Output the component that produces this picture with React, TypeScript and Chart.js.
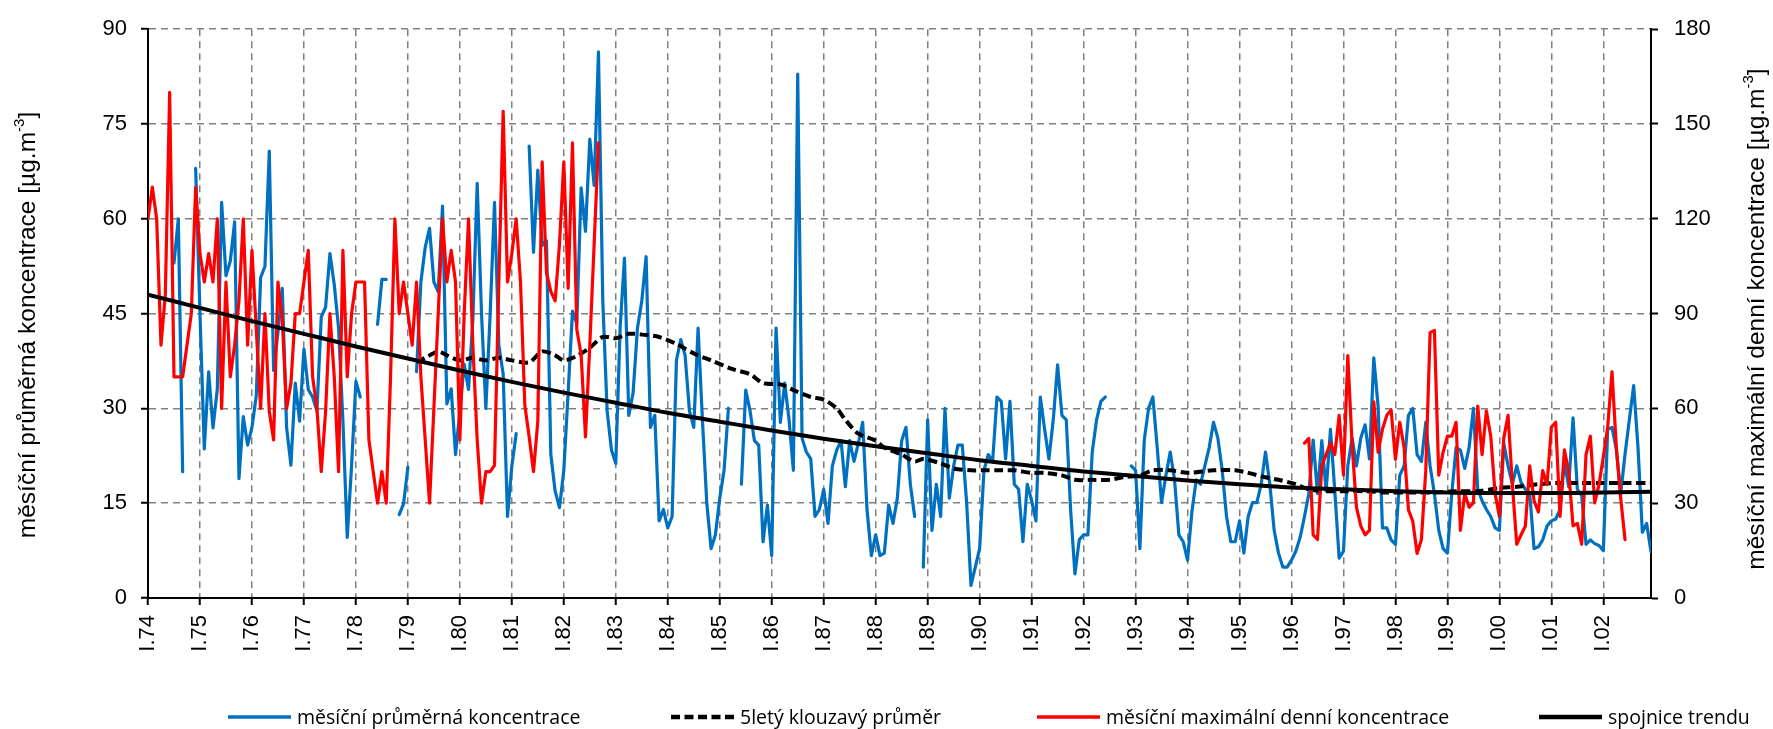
import React, { useEffect, useRef } from "react";
import { Chart, registerables } from "chart.js";

Chart.register(...registerables);

// ---- tick labels (January of each year) ----
const tickLabels = [
  "I.74", "I.75", "I.76", "I.77", "I.78", "I.79", "I.80", "I.81", "I.82", "I.83",
  "I.84", "I.85", "I.86", "I.87", "I.88", "I.89", "I.90", "I.91", "I.92", "I.93",
  "I.94", "I.95", "I.96", "I.97", "I.98", "I.99", "I.00", "I.01", "I.02",
];
const tickMonths = [
  0, 12, 24, 36, 48, 60, 72, 84, 96, 108,
  120, 132, 144, 156, 168, 180, 192, 204, 216, 228,
  240, 252, 264, 276, 288, 300, 312, 324, 336,
];
const lastMonth = 347; // XII.2002

// ---- monthly mean concentration (left axis), Jan..Dec per row, 1974..2002 ----
const monthlyMean = [
  null, null, null, null, null, null, 53, 60, 20, null, null, 68, // 1974
  45, 23.6, 35.8, 26.9, 33, 62.6, 51, 53.3, 59.5, 18.9, 28.7, 24.2, // 1975
  27, 32, 50.7, 52.5, 70.7, 36, 42, 49, 27, 21, 34, 28, // 1976
  39.4, 33, 31.8, 29.6, 44.5, 46, 54.5, 49.6, 42.7, 28, 9.6, 20.9, // 1977
  34.3, 31.8, null, null, null, 43.3, 50.4, 50.4, null, null, 13.2, 14.9, // 1978
  20.7, null, 35.8, 50, 55.5, 58.5, 50, 48.5, 62, 30.7, 33.1, 22.7, // 1979
  29.6, 37, 33, 44, 65.6, 45, 30, 45, 62.6, 40, 35.4, 12.9, // 1980
  20.9, 26, null, null, 71.5, 54.7, 67.7, 55.8, 56.5, 22.7, 16.9, 14.3, // 1981
  20.2, 32.5, 45.4, 43.4, 64.9, 58, 72.6, 65.3, 86.4, 47, 29.6, 23.4, // 1982
  21.3, 42.7, 53.8, 28.9, 32.5, 42.7, 47, 54, 27, 28.9, 12.2, 14, // 1983
  11.1, 12.9, 37.6, 40.9, 38.4, 29.6, 27, 42.7, 28.2, 15.1, 7.8, 10, // 1984
  15.8, 20.2, 30, null, null, 18, 32.9, 29.6, 24.9, 24.2, 8.9, 14.7, // 1985
  6.7, 42.7, 27.8, 34, 28.2, 20.2, 82.9, 25.3, 23.1, 22, 12.9, 14, // 1986
  17.2, 11.8, 20.9, 23.4, 24.9, 17.6, 24.9, 21.6, 24.5, 27.8, 14, 6.7, // 1987
  10, 6.7, 7.1, 14.7, 11.8, 15.8, 24.9, 27, 18, 12.9, null, 4.9, // 1988
  28.2, 10.7, 18, 12.9, 30, 15.8, 20.9, 24.2, 24.2, 15.1, 2, 4.9, // 1989
  7.8, 20.2, 22.7, 21.6, 31.8, 31.1, 22, 31.1, 18, 17.2, 8.9, 18, // 1990
  15.4, 12.2, 31.8, 26.7, 22, 28.2, 36.9, 28.9, 28.2, 14, 3.8, 9.2, // 1991
  10, 10, 23.1, 28.2, 31.1, 31.8, null, null, null, null, null, 20.9, // 1992
  20.2, 7.8, 24.9, 30, 31.8, 23.8, 15.1, 19.4, 23.1, 18.7, 10, 8.9, // 1993
  6, 13.6, 18.7, 18, 20.9, 23.8, 27.8, 25.3, 20.2, 12.9, 8.9, 8.9, // 1994
  12.2, 7.1, 12.9, 15.1, 15.1, 18, 23.1, 18, 10.7, 7.1, 4.9, 4.9, // 1995
  6, 7.4, 9.6, 12.9, 16.5, 25, 16.5, 24.9, 16.9, 26.7, 16.9, 6.3, // 1996
  7.4, 20.9, 25.3, 20.9, 25.3, 27.4, 22, 38, 30.3, 11.1, 11.1, 9.2, // 1997
  8.5, 19.4, 20.9, 28.9, 30, 22.7, 21.6, 27.8, 20.9, 16.5, 10.7, 7.8, // 1998
  7.1, 16.5, 23.8, 23.4, 20.5, 23.8, 30, 17.2, 15.4, 14, 12.9, 11.1, // 1999
  10.7, 24.5, 20.9, 18, 20.9, 18.3, 17.2, 16.5, 7.8, 8.1, 9.2, 11.4, // 2000
  12.2, 12.5, 14, 21.6, 17.6, 28.5, 17.2, 16.2, 8.5, 9.2, 8.6, 8.3, // 2001
  7.5, 26.7, 27, 23.5, 16.5, 22.7, 28.2, 33.6, 23.8, 10.4, 11.8, 7.3, // 2002
];

// ---- monthly maximum daily concentration (right axis) ----
const monthlyMax = [
  120, 130, 120, 80, 96, 160, 70, 70, 70, 80, 90, 130, // 1974
  109, 100, 109, 100, 120, 60, 100, 70, 80, 94, 120, 80, // 1975
  110, 85, 60, 90, 59, 50, 100, 88, 60, 68, 90, 90, // 1976
  100, 110, 70, 60, 40, 59, 90, 70, 40, 110, 70, 90, // 1977
  100, 100, 100, 50, 40, 30, 40, 30, 70, 120, 90, 100, // 1978
  90, 80, 100, 70, 50, 30, 60, 90, 120, 100, 110, 100, // 1979
  50, 90, 120, 80, 50, 30, 40, 40, 42, 100, 154, 100, // 1980
  109, 120, 100, 61, 51, 40, 56, 138, 103, 97, 94, 112, // 1981
  138, 98, 144, 85, 77, 51, 80, 112, 144, null, null, null, // 1982
  null, null, null, null, null, null, null, null, null, null, null, null, // 1983
  null, null, null, null, null, null, null, null, null, null, null, null, // 1984
  null, null, null, null, null, null, null, null, null, null, null, null, // 1985
  null, null, null, null, null, null, null, null, null, null, null, null, // 1986
  null, null, null, null, null, null, null, null, null, null, null, null, // 1987
  null, null, null, null, null, null, null, null, null, null, null, null, // 1988
  null, null, null, null, null, null, null, null, null, null, null, null, // 1989
  null, null, null, null, null, null, null, null, null, null, null, null, // 1990
  null, null, null, null, null, null, null, null, null, null, null, null, // 1991
  null, null, null, null, null, null, null, null, null, null, null, null, // 1992
  null, null, null, null, null, null, null, null, null, null, null, null, // 1993
  null, null, null, null, null, null, null, null, null, null, null, null, // 1994
  null, null, null, null, null, null, null, null, null, null, null, null, // 1995
  null, null, null, 49, 50.5, 20, 18.5, 41.8, 45.4, 49, 45.4, 57.8, // 1996
  38.9, 76.7, 48.3, 28.7, 22.8, 20, 21.4, 62.1, 46.1, 53.4, 57.8, 59.5, // 1997
  43.9, 55.6, 47.6, 27.9, 24.3, 14.1, 18.5, 40.3, 84, 84.7, 38.9, 46.1, // 1998
  51.2, 51.2, 55.6, 21.4, 33, 28.7, 30.1, 60.7, 45.4, 59.2, 51.2, 33, // 1999
  25.8, 50.5, 57.8, 35.9, 17, 20, 22.8, 41.8, 30.8, 27.2, 40.3, 35.9, // 2000
  54.1, 55.6, 25.8, 46.9, 40, 22.8, 23.6, 17, 45.4, 51.2, 30.1, 35.9, // 2001
  44.7, 54.1, 71.6, 47.6, 31.6, 18.5, null, null, null, null, null, null, // 2002
];

// ---- 5-year moving average (left axis), read at month index ----
const maMonths = [
  62, 64, 67, 69, 72, 75, 78, 81, 84, 88, 91, 94, 96, 99, 102, 105, 108, 111, 115, 118,
  122, 126, 130, 135, 139, 142, 146, 149, 153, 156, 159, 161, 164, 168, 170, 174, 177, 179, 183, 186,
  190, 193, 197, 200, 204, 207, 211, 214, 218, 222, 225, 229, 232, 236, 240, 246, 251, 254, 258, 261,
  265, 268, 272, 276, 281, 286, 291, 297, 302, 307, 312, 316, 321, 325, 330, 336, 341, 347,
];
const maValues = [
  37.3, 38, 39, 38.4, 37.6, 38, 37.6, 38, 37.6, 37.3, 39, 38.4, 37.6, 38.3, 39.6, 41.3, 41.1, 41.8, 41.6, 41.3,
  40.2, 38.7, 37.6, 36.2, 35.4, 34, 33.8, 32.9, 31.8, 31.4, 30, 28.2, 26, 24.9, 23.8, 22.7, 21.6, 22, 21.3, 20.5,
  20.2, 20.2, 20.2, 20.2, 19.8, 19.8, 19.4, 18.7, 18.7, 18.7, 19.1, 19.4, 20.2, 20.2, 19.8, 20.2, 20.2, 19.8, 19.1, 18.7,
  18, 17.2, 16.9, 16.9, 16.9, 16.7, 16.7, 16.7, 16.9, 16.9, 17.4, 17.6, 18, 18.2, 18.2, 18.2, 18.2, 18.2,
];

// ---- trend line (left axis) ----
const trendMonths = [
  0, 12, 24, 36, 48, 60, 72, 84, 96, 108, 120, 132, 144, 156, 168,
  180, 192, 204, 216, 228, 240, 252, 264, 276, 288, 300, 312, 324, 336, 347,
];
const trendValues = [
  48.0, 45.9, 43.8, 41.8, 39.8, 37.9, 36.0, 34.2, 32.5, 30.9, 29.3, 27.9, 26.5, 25.2, 24.0,
  22.9, 21.8, 20.9, 20.0, 19.3, 18.6, 18.0, 17.5, 17.2, 16.9, 16.7, 16.6, 16.6, 16.7, 16.8,
];

const seriesLabels = [
  "měsíční průměrná koncentrace",
  "5letý klouzavý průměr",
  "měsíční maximální denní koncentrace",
  "spojnice trendu",
];

const leftTitle = ["měsíční průměrná koncentrace [µg.m", "-3", "]"];
const rightTitle = ["měsíční maximální denní koncentrace [µg.m", "-3", "]"];

const AXIS_FONT = '"Liberation Sans", Arial, sans-serif';
const LEGEND_FAMILY = '"Open Sans", "Noto Sans", sans-serif';
const GRID_COLOR = "#808080";

function drawVerticalTitle(ctx: CanvasRenderingContext2D, parts: string[], cx: number, cy: number) {
  const mainFont = `24.5px ${AXIS_FONT}`;
  const supFont = `15px ${AXIS_FONT}`;
  ctx.save();
  ctx.font = mainFont;
  const w0 = ctx.measureText(parts[0]).width;
  const w2 = ctx.measureText(parts[2]).width;
  ctx.font = supFont;
  const w1 = ctx.measureText(parts[1]).width;
  const total = w0 + w1 + w2;
  ctx.translate(cx, cy);
  ctx.rotate(-Math.PI / 2);
  ctx.fillStyle = "#000";
  ctx.textAlign = "left";
  ctx.textBaseline = "middle";
  let x = -total / 2;
  ctx.font = mainFont;
  ctx.fillText(parts[0], x, 0);
  x += w0;
  ctx.font = supFont;
  ctx.fillText(parts[1], x, -8);
  x += w1;
  ctx.font = mainFont;
  ctx.fillText(parts[2], x, 0);
  ctx.restore();
}

const legendStarts = [228, 671, 1037, 1539];

const overlayPlugin = {
  id: "overlay",
  afterDraw(chart: any) {
    const ctx: CanvasRenderingContext2D = chart.ctx;
    drawVerticalTitle(ctx, leftTitle, 28, 325);
    drawVerticalTitle(ctx, rightTitle, 1757, 319);
    const y = 717;
    ctx.save();
    chart.data.datasets.forEach((ds: any, i: number) => {
      const x0 = legendStarts[i];
      ctx.save();
      ctx.strokeStyle = ds.borderColor;
      ctx.lineWidth = ds.borderWidth + 0.5;
      ctx.setLineDash(ds.borderDash || []);
      ctx.lineCap = "butt";
      ctx.beginPath();
      ctx.moveTo(x0, y);
      ctx.lineTo(x0 + 63, y);
      ctx.stroke();
      ctx.restore();
      ctx.font = `19.5px ${LEGEND_FAMILY}`;
      ctx.fillStyle = "#000";
      ctx.textAlign = "left";
      ctx.textBaseline = "middle";
      ctx.fillText(ds.label, x0 + 69, y + 1);
    });
    ctx.restore();
  },
};

export default function App() {
  const canvasRef = useRef<HTMLCanvasElement | null>(null);

  useEffect(() => {
    document.body.style.margin = "0";
    const canvas = canvasRef.current;
    if (!canvas) return;

    const tickFont = { family: AXIS_FONT, size: 22 };
    const chart = new Chart(canvas, {
      type: "line",
      data: {
        datasets: [
          {
            label: seriesLabels[0],
            data: monthlyMean.map((v, i) => ({ x: i, y: v })),
            borderColor: "#0070C0",
            borderWidth: 3.2,
            borderJoinStyle: "round",
            borderCapStyle: "round",
            pointRadius: 0,
            spanGaps: false,
            yAxisID: "y",
            order: 3,
          },
          {
            label: seriesLabels[1],
            data: maMonths.map((m, k) => ({ x: m, y: maValues[k] })),
            borderColor: "#000000",
            borderWidth: 4,
            borderDash: [9, 4.5],
            pointRadius: 0,
            tension: 0.3,
            yAxisID: "y",
            order: 2,
          },
          {
            label: seriesLabels[2],
            data: monthlyMax.map((v, i) => ({ x: i, y: v })),
            borderColor: "#FF0000",
            borderWidth: 3.2,
            borderJoinStyle: "round",
            borderCapStyle: "round",
            pointRadius: 0,
            spanGaps: false,
            yAxisID: "y2",
            order: 1,
          },
          {
            label: seriesLabels[3],
            data: trendMonths.map((m, k) => ({ x: m, y: trendValues[k] })),
            borderColor: "#000000",
            borderWidth: 4,
            pointRadius: 0,
            cubicInterpolationMode: "monotone",
            yAxisID: "y",
            order: 0,
          },
        ],
      } as any,
      options: {
        animation: false,
        responsive: false,
        events: [],
        layout: { padding: { top: 24, left: 0, right: 0, bottom: 0 } },
        plugins: {
          legend: { display: false },
          tooltip: { enabled: false },
          title: { display: false },
        },
        scales: {
          x: {
            type: "linear",
            min: 0,
            max: lastMonth,
            afterBuildTicks: (scale: any) => {
              scale.ticks = tickMonths.map((v) => ({ value: v }));
            },
            afterFit: (scale: any) => {
              scale.height = 131;
            },
            ticks: {
              autoSkip: false,
              maxRotation: 90,
              minRotation: 90,
              padding: 10,
              color: "#000",
              font: tickFont,
              callback: (value: any) => {
                const k = tickMonths.indexOf(Number(value));
                return k < 0 ? "" : tickLabels[k];
              },
            },
            grid: {
              color: GRID_COLOR,
              lineWidth: 1.5,
              tickLength: 7,
              tickColor: "#000",
              tickWidth: 2,
              tickBorderDash: [],
            },
            border: { display: true, color: "#000", width: 2, dash: [7, 5] },
          },
          y: {
            position: "left",
            min: 0,
            max: 90,
            afterFit: (scale: any) => {
              scale.width = 148;
            },
            ticks: { stepSize: 15, padding: 14, color: "#000", font: tickFont },
            grid: {
              color: GRID_COLOR,
              lineWidth: 1.5,
              tickLength: 7,
              tickColor: "#000",
              tickWidth: 2,
              tickBorderDash: [],
            },
            border: { display: true, color: "#000", width: 2, dash: [7, 5] },
          },
          y2: {
            position: "right",
            min: 0,
            max: 180,
            afterFit: (scale: any) => {
              scale.width = 122;
            },
            ticks: { stepSize: 30, padding: 16, color: "#000", font: tickFont },
            grid: {
              drawOnChartArea: false,
              tickLength: 7,
              tickColor: "#000",
              tickWidth: 2,
              tickBorderDash: [],
            },
            border: { display: true, color: "#000", width: 2 },
          },
        },
      } as any,
      plugins: [overlayPlugin],
    });

    return () => {
      chart.destroy();
    };
  }, []);

  return (
    <div style={{ position: "fixed", left: 0, top: 0, width: 1773, height: 729, background: "#fff" }}>
      <canvas ref={canvasRef} width={1773} height={729} style={{ display: "block" }} />
    </div>
  );
}
